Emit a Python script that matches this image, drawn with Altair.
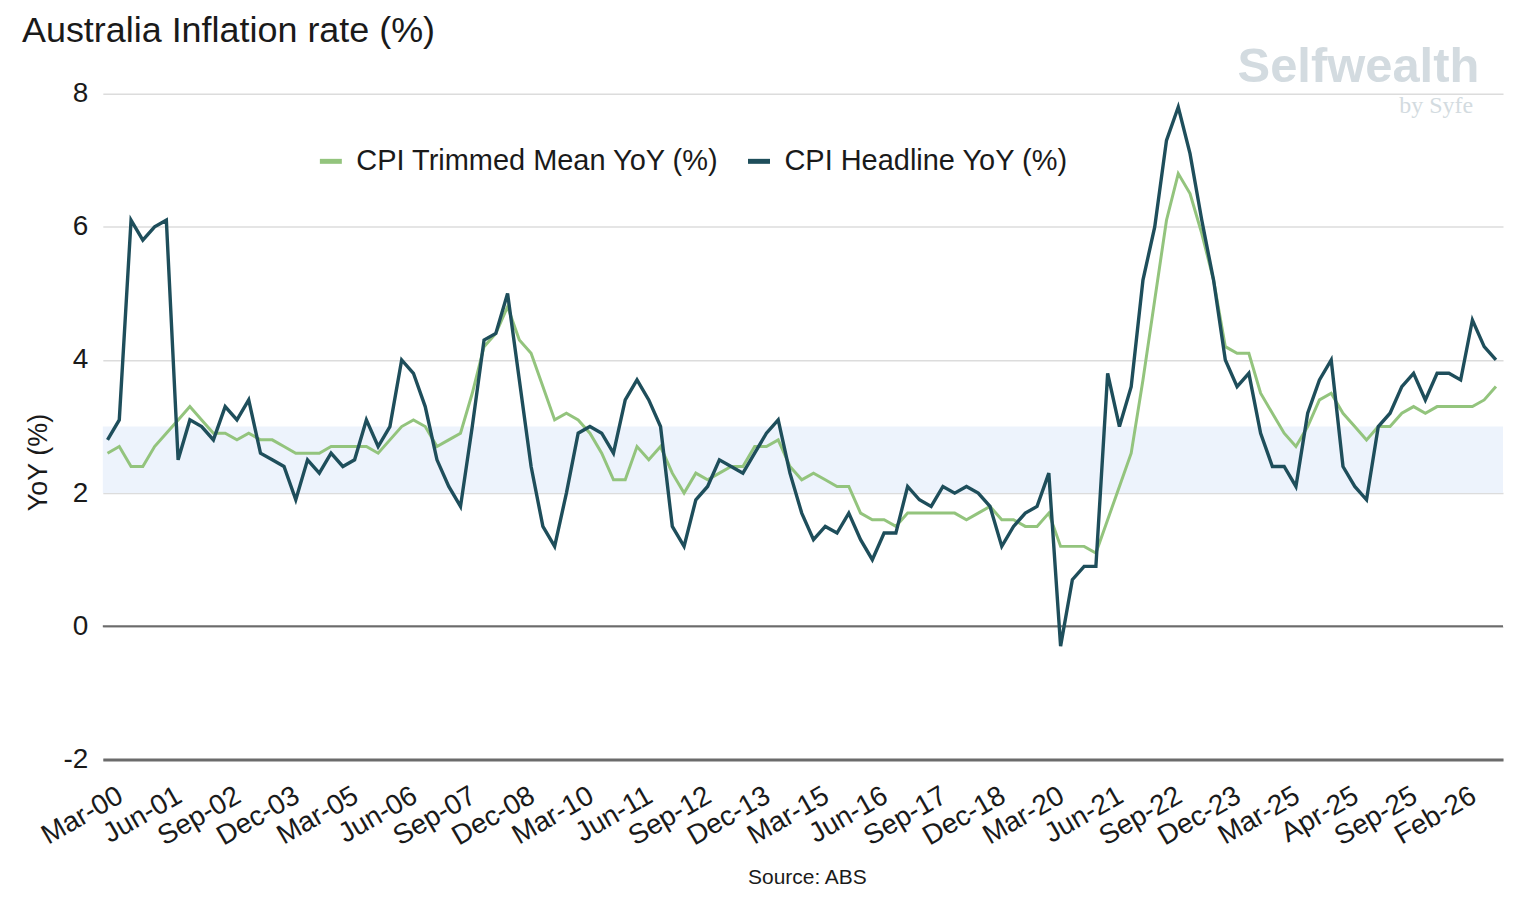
import altair as alt
import pandas as pd

FONT = "Liberation Sans"

title_text = "Australia Inflation rate (%)"
source_text = "Source: ABS"
y_title = "YoY (%)"
logo_text = "Selfwealth"
logo_sub = "by Syfe"
series_names = ["CPI Trimmed Mean YoY (%)", "CPI Headline YoY (%)"]
series_colors = ["#93c47d", "#1e4e5b"]

# x tick labels (every 5th observation)
tick_labels = ["Mar-00", "Jun-01", "Sep-02", "Dec-03", "Mar-05", "Jun-06", "Sep-07",
               "Dec-08", "Mar-10", "Jun-11", "Sep-12", "Dec-13", "Mar-15", "Jun-16",
               "Sep-17", "Dec-18", "Mar-20", "Jun-21", "Sep-22", "Dec-23", "Mar-25",
               "Apr-25", "Sep-25", "Feb-26"]
tick_step = 5

# quarterly observations Mar-00 .. Mar-26, then monthly Apr-25 .. May-26
quarter_months = ["Mar", "Jun", "Sep", "Dec"]
month_names = ["Jan", "Feb", "Mar", "Apr", "May", "Jun", "Jul", "Aug", "Sep", "Oct", "Nov", "Dec"]
periods = []
for k in range(105):
    yr = k // 4
    periods.append(f"{quarter_months[k % 4]}-{yr:02d}")
for k in range(14):
    m = 3 + k
    periods.append(f"{month_names[m % 12]}-{25 + m // 12:02d}")

headline = [2.8, 3.1, 6.1, 5.8, 6.0, 6.1, 2.5, 3.1, 3.0, 2.8,
            3.3, 3.1, 3.4, 2.6, 2.5, 2.4, 1.9, 2.5, 2.3, 2.6,
            2.4, 2.5, 3.1, 2.7, 3.0, 4.0, 3.8, 3.3, 2.5, 2.1,
            1.8, 3.0, 4.3, 4.4, 5.0, 3.7, 2.4, 1.5, 1.2, 2.0,
            2.9, 3.0, 2.9, 2.6, 3.4, 3.7, 3.4, 3.0, 1.5, 1.2,
            1.9, 2.1, 2.5, 2.4, 2.3, 2.6, 2.9, 3.1, 2.3, 1.7,
            1.3, 1.5, 1.4, 1.7, 1.3, 1.0, 1.4, 1.4, 2.1, 1.9,
            1.8, 2.1, 2.0, 2.1, 2.0, 1.8, 1.2, 1.5, 1.7, 1.8,
            2.3, -0.3, 0.7, 0.9, 0.9, 3.8, 3.0, 3.6, 5.2, 6.0,
            7.3, 7.8, 7.1, 6.1, 5.2, 4.0, 3.6, 3.8, 2.9, 2.4,
            2.4, 2.1, 3.2, 3.7, 4.0, 2.4, 2.1, 1.9, 3.0, 3.2,
            3.6, 3.8, 3.4, 3.8, 3.8, 3.7, 4.6, 4.2, 4.0]

trimmed = [2.6, 2.7, 2.4, 2.4, 2.7, 2.9, 3.1, 3.3, 3.1, 2.9,
           2.9, 2.8, 2.9, 2.8, 2.8, 2.7, 2.6, 2.6, 2.6, 2.7,
           2.7, 2.7, 2.7, 2.6, 2.8, 3.0, 3.1, 3.0, 2.7, 2.8,
           2.9, 3.5, 4.2, 4.4, 4.8, 4.3, 4.1, 3.6, 3.1, 3.2,
           3.1, 2.9, 2.6, 2.2, 2.2, 2.7, 2.5, 2.7, 2.3, 2.0,
           2.3, 2.2, 2.3, 2.4, 2.4, 2.7, 2.7, 2.8, 2.4, 2.2,
           2.3, 2.2, 2.1, 2.1, 1.7, 1.6, 1.6, 1.5, 1.7, 1.7,
           1.7, 1.7, 1.7, 1.6, 1.7, 1.8, 1.6, 1.6, 1.5, 1.5,
           1.7, 1.2, 1.2, 1.2, 1.1, 1.6, 2.1, 2.6, 3.7, 4.9,
           6.1, 6.8, 6.5, 5.9, 5.2, 4.2, 4.1, 4.1, 3.5, 3.2,
           2.9, 2.7, 3.0, 3.4, 3.5, 3.2, 3.0, 2.8, 3.0, 3.0,
           3.2, 3.3, 3.2, 3.3, 3.3, 3.3, 3.3, 3.4, 3.6]

target_band = {"lo": [2], "hi": [3]}
zero_line = [0]
y_ticks = [-2, 0, 2, 4, 6, 8]
y_domain = [-2, 8]

n = len(headline)
rows = []
for name, vals in [(series_names[0], trimmed), (series_names[1], headline)]:
    for i, v in enumerate(vals):
        rows.append({"idx": i, "period": periods[i], "series": name, "value": v})
df = pd.DataFrame(rows)

W, H = 1403, 667

label_array = "[" + ",".join(f"'{t}'" for t in tick_labels) + "]"
x_enc = alt.X(
    "idx:Q",
    scale=alt.Scale(domain=[-0.4, n - 0.4], nice=False, zero=False),
    axis=alt.Axis(
        values=list(range(0, tick_step * len(tick_labels), tick_step)),
        labelExpr=f"{label_array}[round(datum.value / {tick_step})]",
        labelAngle=-30, labelAlign="right", labelBaseline="top",
        labelPadding=22, labelOffset=6, labelFontSize=28, labelColor="#1a1a1a",
        labelFont=FONT, labelFlush=False, labelOverlap=False, labelBound=False,
        ticks=False, grid=False, domainColor="#6b6b6b", domainWidth=3, title=None,
    ),
)

y_scale = alt.Scale(domain=y_domain, nice=False, zero=False)
y_axis = alt.Axis(
    values=y_ticks, labelExpr="'' + datum.value", title=y_title,
    grid=True, gridColor="#dcdcdc", gridWidth=1.5,
    domain=False, ticks=False, labelFontSize=28, labelPadding=15, labelColor="#1a1a1a",
    labelFont=FONT, titleFont=FONT, titleFontSize=27, titleFontWeight="normal",
    titleColor="#1a1a1a", titlePadding=11, titleY=369,
)

color_enc = alt.Color(
    "series:N",
    scale=alt.Scale(domain=series_names, range=series_colors),
    legend=alt.Legend(
        title=None, orient="none", legendX=214, legendY=53, direction="horizontal",
        symbolType="stroke", symbolStrokeWidth=5, symbolSize=484,
        labelFontSize=29, labelFont=FONT, labelColor="#1a1a1a", labelOffset=11,
        columnPadding=18, labelLimit=700,
    ),
)

band = alt.Chart(pd.DataFrame(target_band)).mark_rect(color="#edf3fc").encode(
    y=alt.Y("lo:Q", scale=y_scale, axis=y_axis), y2="hi:Q",
    x=alt.value(0), x2=alt.value(W)
)
zero_rule = alt.Chart(pd.DataFrame({"v": zero_line})).mark_rule(
    color="#6b6b6b", strokeWidth=2
).encode(y=alt.Y("v:Q", scale=y_scale, axis=y_axis))

y_enc = alt.Y("value:Q", scale=y_scale, axis=y_axis)
trim_line = alt.Chart(df[df.series == series_names[0]]).mark_line(
    strokeWidth=3
).encode(x=x_enc, y=y_enc, color=color_enc)
head_line = alt.Chart(df[df.series == series_names[1]]).mark_line(
    strokeWidth=3.4
).encode(x=x_enc, y=y_enc, color=color_enc)


def text_layer(txt, x, y, **kw):
    return alt.Chart(pd.DataFrame({"t": [txt]})).mark_text(**kw).encode(
        x=alt.value(x), y=alt.value(y), text="t:N"
    )


title_mark = text_layer(title_text, -81, -52, align="left", baseline="alphabetic",
                        fontSize=36, font=FONT, color="#1a1a1a")
source_mark = text_layer(source_text, 706, 792, align="center", baseline="alphabetic",
                         fontSize=21, font=FONT, color="#1a1a1a")
logo_mark = text_layer(logo_text, 1137, -12, align="left", baseline="alphabetic",
                       fontSize=49, font=FONT, fontWeight="bold", color="#d3dbe0")
logo_sub_mark = text_layer(logo_sub, 1373, 19, align="right", baseline="alphabetic",
                           fontSize=24, font="Liberation Serif", color="#d3dbe0")

chart = alt.layer(
    band, zero_rule, trim_line, head_line,
    title_mark, source_mark, logo_mark, logo_sub_mark,
).properties(
    width=W, height=H,
    autosize=alt.AutoSizeParams(type="none"),
    padding={"left": 95, "top": 85, "right": 5, "bottom": 140},
    background="white",
).configure_view(stroke=None)

chart.save("out.html", embed_options={"renderer": "svg", "actions": False})
